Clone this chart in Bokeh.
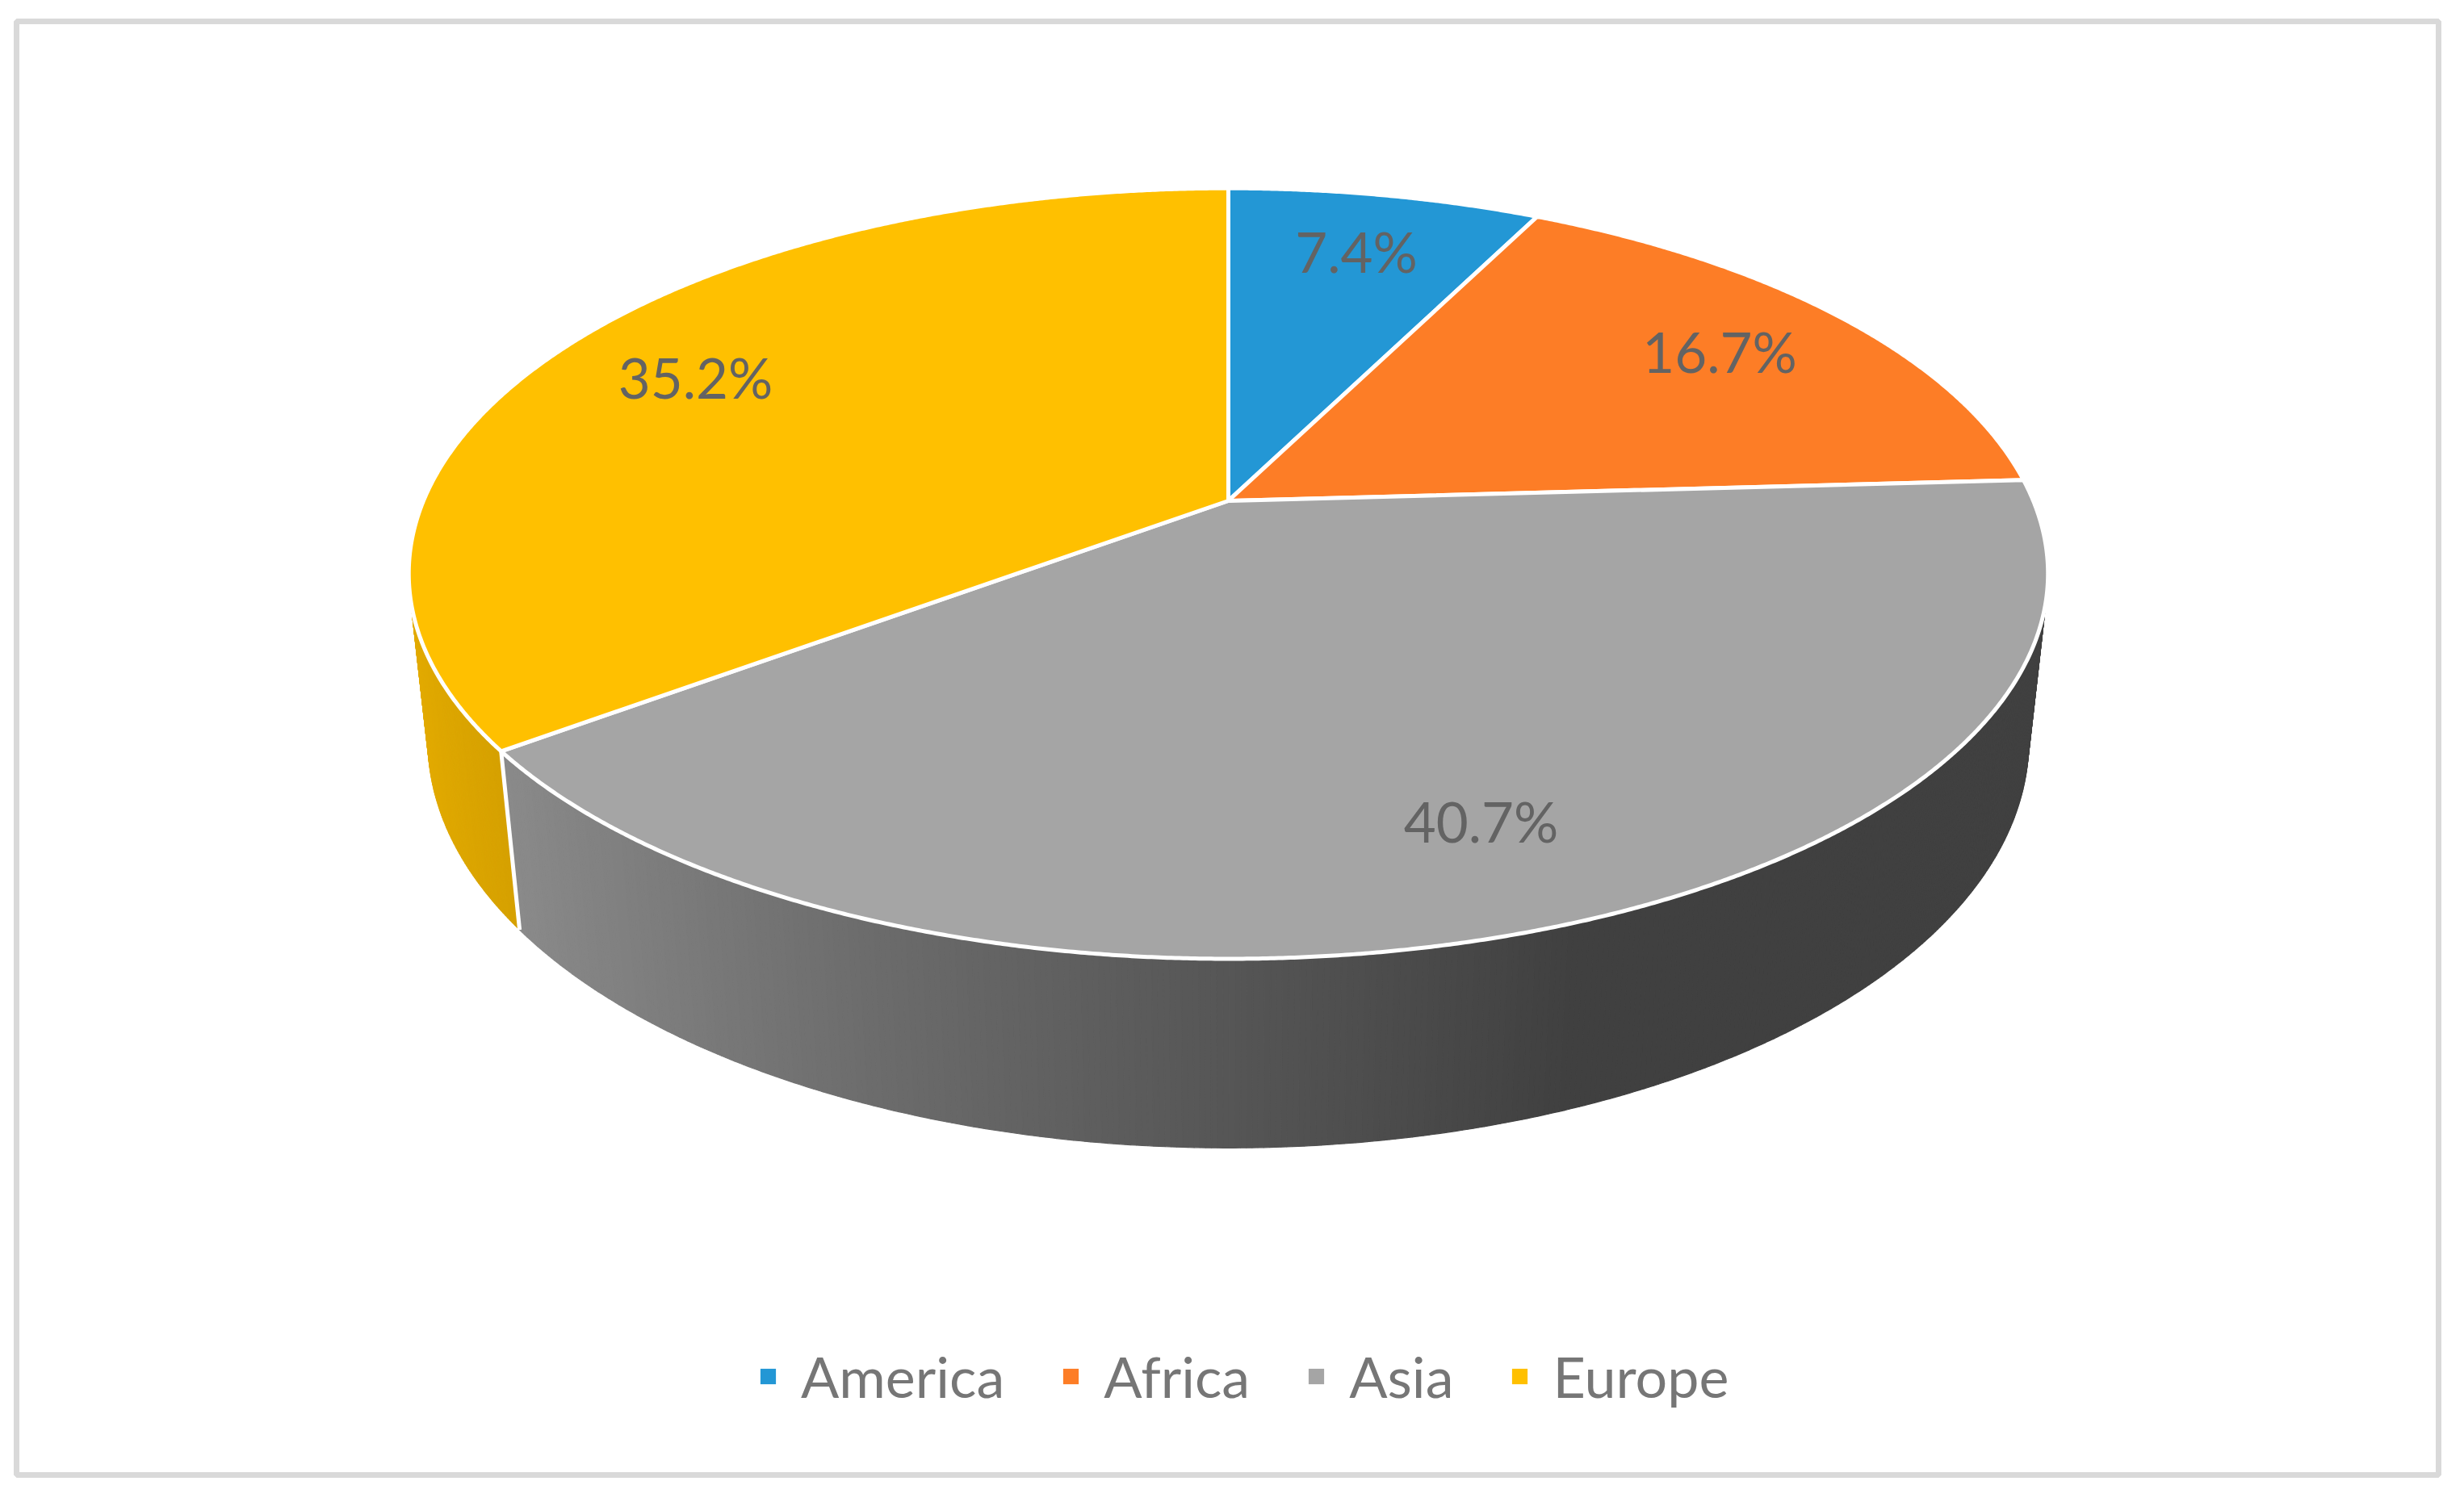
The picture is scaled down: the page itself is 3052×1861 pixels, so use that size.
import numpy as np
from bokeh.plotting import figure
from bokeh.models import Range1d, ColumnDataSource, Legend, LegendItem
from bokeh.embed import file_html
from bokeh.resources import INLINE
from bokeh.core.properties import value

# ---------------- data ----------------
categories = ["America", "Africa", "Asia", "Europe"]
shares = [7.4, 16.7, 40.7, 35.2]
colors = ["#2397d5", "#fd7d26", "#a5a5a5", "#ffc000"]
label_texts = [f"{v:.1f}%" for v in shares]

# ---------------- 3D view (style) ----------------
CX, CY = 1521.0, 620.0       # projected centre of the pie top
SCALE = 997.0                 # focal scale
ELEV = np.radians(27.5)       # camera elevation
DIST = 4.70                   # camera distance (in radii)
THICK = 0.236                 # pie thickness (in radii)
LABEL_R = 0.79
EDGE_W = 5
SHADE_X = [-1.0, -0.78, -0.36, 0.0, 0.35, 1.0]
SHADE_F = [0.90, 0.83, 0.65, 0.52, 0.39, 0.39]


def project(X, Y, Z):
    X = np.asarray(X, float)
    Y = np.asarray(Y, float)
    Z = np.asarray(Z, float)
    w = 1.0 - (Y * np.sin(ELEV) + Z * np.cos(ELEV)) / DIST
    sx = CX + SCALE * X / w
    sy = CY + SCALE * (Z * np.sin(ELEV) - Y * np.cos(ELEV)) / w
    return sx, sy


def shade(X):
    # light from the left: bright on the left, dark right of centre
    return float(np.interp(X, SHADE_X, SHADE_F))


def hex_scale(h, f):
    r, g, b = int(h[1:3], 16), int(h[3:5], 16), int(h[5:7], 16)
    return "#%02x%02x%02x" % tuple(int(round(min(255, c * f))) for c in (r, g, b))


vals = np.array(shares, float)
bounds = np.concatenate([[0.0], np.cumsum(vals) / vals.sum()]) * 2 * np.pi

# ---------------- figure ----------------
p = figure(width=3036, height=1845,
           x_range=Range1d(20, 3020), y_range=Range1d(1827, 26),
           x_axis_type=None, y_axis_type=None,
           output_backend="svg", toolbar_location=None,
           min_border_left=20, min_border_right=16,
           min_border_top=26, min_border_bottom=18)
p.outline_line_color = "#d9d9d9"
p.outline_line_width = 7
p.background_fill_color = "white"
p.border_fill_color = "white"

# ---------------- side walls ----------------
wx, wy, wc, wz = [], [], [], []
for i in range(len(vals)):
    a0, a1 = bounds[i], bounds[i + 1]
    n = max(6, int((a1 - a0) / 0.006))
    ph = np.linspace(a0, a1, n + 1)
    for j in range(n):
        pa, pb = ph[j], ph[j + 1]
        Xs = np.array([np.sin(pa), np.sin(pb), np.sin(pb), np.sin(pa)])
        Zs = np.array([-np.cos(pa), -np.cos(pb), -np.cos(pb), -np.cos(pa)])
        Ys = np.array([0, 0, -THICK, -THICK])
        sx, sy = project(Xs, Ys, Zs)
        wx.append(list(sx))
        wy.append(list(sy))
        pm = 0.5 * (pa + pb)
        wc.append(hex_scale(colors[i], shade(np.sin(pm))))
        wz.append(-np.cos(pm))
order = np.argsort(wz)
wall_src = ColumnDataSource(dict(xs=[wx[k] for k in order], ys=[wy[k] for k in order],
                                 c=[wc[k] for k in order]))
p.patches("xs", "ys", source=wall_src, fill_color="c", line_color="c", line_width=1.2)

# white edges where slices meet on the visible side
silhouette_z = 1.0 / (DIST * np.cos(ELEV))
for b in bounds[1:-1]:
    Zb = -np.cos(b)
    if Zb > silhouette_z:
        sx, sy = project([np.sin(b)] * 2, [0, -THICK], [Zb] * 2)
        p.line(sx, sy, line_color="white", line_width=EDGE_W)

# ---------------- top faces ----------------
cx0, cy0 = project(0.0, 0.0, 0.0)
tx, ty = [], []
for i in range(len(vals)):
    a0, a1 = bounds[i], bounds[i + 1]
    n = max(8, int((a1 - a0) / 0.004))
    ph = np.linspace(a0, a1, n + 1)
    sx, sy = project(np.sin(ph), np.zeros_like(ph), -np.cos(ph))
    tx.append([float(cx0)] + list(sx))
    ty.append([float(cy0)] + list(sy))
top_src = ColumnDataSource(dict(xs=tx, ys=ty, c=colors))
p.patches("xs", "ys", source=top_src, fill_color="c", line_color="white",
          line_width=EDGE_W, line_join="round")

# ---------------- data labels ----------------
mids = 0.5 * (bounds[:-1] + bounds[1:])
lx, ly = project(LABEL_R * np.sin(mids), np.zeros_like(mids), -LABEL_R * np.cos(mids))
p.text(x=list(lx), y=list(ly), text=label_texts, text_font=value("Lato"),
       text_font_size="69px", text_color="#636363",
       text_align="center", text_baseline="middle")

# ---------------- legend ----------------
items = []
for name, col in zip(categories, colors):
    # zero-area patch at the pie centre: only used for the legend swatch
    r = p.patches(xs=[[float(cx0)]], ys=[[float(cy0)]], fill_color=col, line_color=None)
    items.append(LegendItem(label=name, renderers=[r]))
legend = Legend(items=items, orientation="horizontal", location=(919, 80),
                glyph_width=24, glyph_height=24, label_standoff=29, spacing=70,
                padding=0, margin=0, border_line_color=None,
                background_fill_alpha=0.0,
                label_text_font="Lato", label_text_font_size="70px",
                label_text_color="#767676")
p.add_layout(legend)

open("out.html", "w").write(file_html(p, INLINE))
